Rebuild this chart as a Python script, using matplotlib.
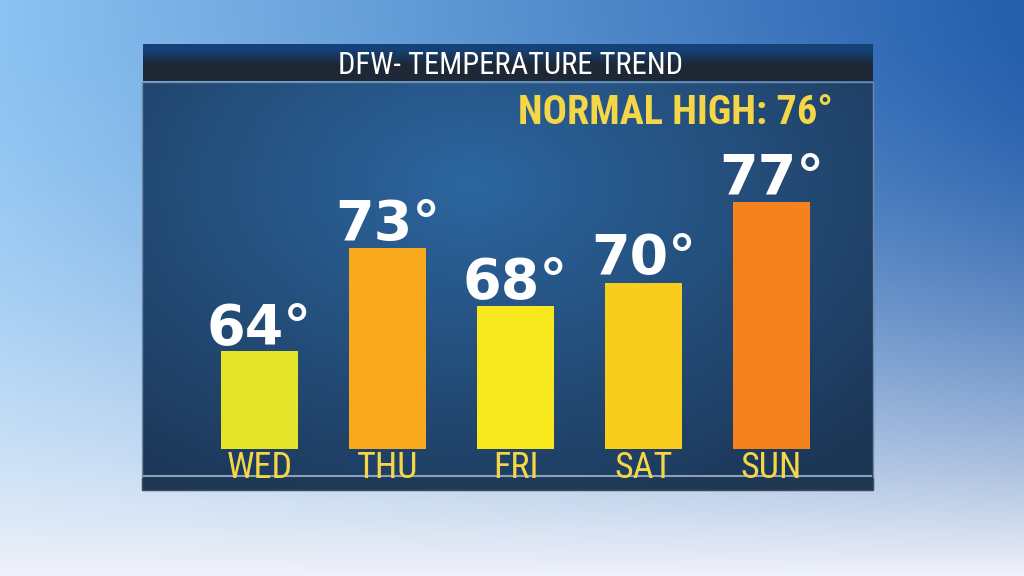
import numpy as np
import matplotlib
matplotlib.use("Agg")
import matplotlib.pyplot as plt
from matplotlib.patches import Rectangle
from matplotlib import font_manager


# chart data
days = ["WED", "THU", "FRI", "SAT", "SUN"]
temps = [64, 73, 68, 70, 77]
bar_colors = ["#e4e42a", "#f8aa1c", "#f8e81e", "#f8cd1e", "#f5821f"]
title = "DFW- TEMPERATURE TREND"
normal_label = "NORMAL HIGH: 76°"

W, H = 1024, 576

# pick a narrow face if one is there
have = {f.name for f in font_manager.fontManager.ttflist}
narrow = [n for n in ["Roboto Condensed", "Liberation Sans Narrow",
                      "DejaVu Sans Condensed", "Roboto"] if n in have]
narrow = narrow[:1] + ["DejaVu Sans"]

fig = plt.figure(figsize=(W / 100, H / 100), dpi=100)

# background axes in pixel coords (y down)
bg = fig.add_axes([0, 0, 1, 1])
bg.set_xlim(0, W)
bg.set_ylim(H, 0)
bg.axis("off")

# sky gradient
u, v = np.meshgrid(np.linspace(0, 1, 256), np.linspace(0, 1, 144))
tl = np.array([140, 195, 242]) / 255
tr = np.array([36, 94, 172]) / 255
bot = np.array([238, 241, 249]) / 255
top = tl[None, None, :] * (1 - u[..., None]) + tr[None, None, :] * u[..., None]
t = np.clip(v, 0, 1)[..., None] ** 1.9
sky = top * (1 - t) + bot[None, None, :] * t
bg.imshow(sky, extent=(0, W, H, 0), aspect="auto", zorder=0)

# main panel gradient
px0, px1, py0, py1 = 142, 873, 82, 490
pu, pv = np.meshgrid(np.linspace(0, 1, 200), np.linspace(0, 1, 120))
d = np.sqrt(((pu - 0.45) / 0.75) ** 2 + ((pv - 0.25) / 0.9) ** 2)
d = np.clip(d, 0, 1)[..., None]
light = np.array([44, 102, 160]) / 255
dark = np.array([28, 54, 86]) / 255
panel = light[None, None, :] * (1 - d) + dark[None, None, :] * d
bg.imshow(panel, extent=(px0, px1, py1, py0), aspect="auto", zorder=1)
bg.add_patch(Rectangle((px0, py0), px1 - px0, py1 - py0, fill=False,
                       edgecolor="#6f8aa8", lw=1.0, zorder=2))
bg.plot([px0 + 2, px1 - 2], [476, 476], color="#8aa2bb", lw=1.5, zorder=2)
bg.add_patch(Rectangle((px0, 478), px1 - px0, py1 - 478,
                       color="#22384f", alpha=0.6, zorder=2))

# title bar
tb = np.linspace(0, 1, 60)[:, None, None]
c_top = np.array([20, 66, 120]) / 255
c_bot = np.array([30, 40, 54]) / 255
ramp = np.clip((tb - 0.15) / 0.4, 0, 1)
bar_img = c_top * (1 - ramp) + c_bot * ramp
bar_img = np.repeat(bar_img, 4, axis=1)
bg.imshow(bar_img, extent=(143, 873, 81, 44), aspect="auto", zorder=1)

bg.text(511, 74, title, color="white", fontsize=22, family=narrow,
        ha="center", va="baseline", zorder=5)
bg.text(833, 124.5, normal_label, color="#f5d646", fontsize=29,
        family=narrow, weight="bold", ha="right", va="baseline", zorder=5)

# bar axes: baseline at y=449 px, 11.48 px per degree
y_base = 55.5
ppd = 11.48
ax = fig.add_axes([px0 / W, (H - 449) / H, (px1 - px0) / W, (449 - py0) / H])
ax.set_facecolor("none")
x = np.arange(len(days))
ax.set_xlim((px0 - 259.5) / 128, (px1 - 259.5) / 128)
ax.set_ylim(y_base, y_base + (449 - py0) / ppd)
ax.axis("off")

ax.bar(x, temps, width=0.6, color=bar_colors, zorder=3)

for i, tmp in enumerate(temps):
    ax.annotate(f"{tmp}°", (i, tmp), xytext=(0, 6), textcoords="offset points",
                ha="center", va="baseline", color="white", fontsize=40,
                family="DejaVu Sans", weight="bold", zorder=5,
                annotation_clip=False)
    ax.annotate(days[i], (i, 0), xycoords=("data", "axes fraction"),
                xytext=(0, -29 * 0.72), textcoords="offset points",
                ha="center", va="baseline", color="#f5d646", fontsize=26,
                family=narrow, weight="normal", zorder=5,
                annotation_clip=False)

fig.savefig("out.png", dpi=100)
